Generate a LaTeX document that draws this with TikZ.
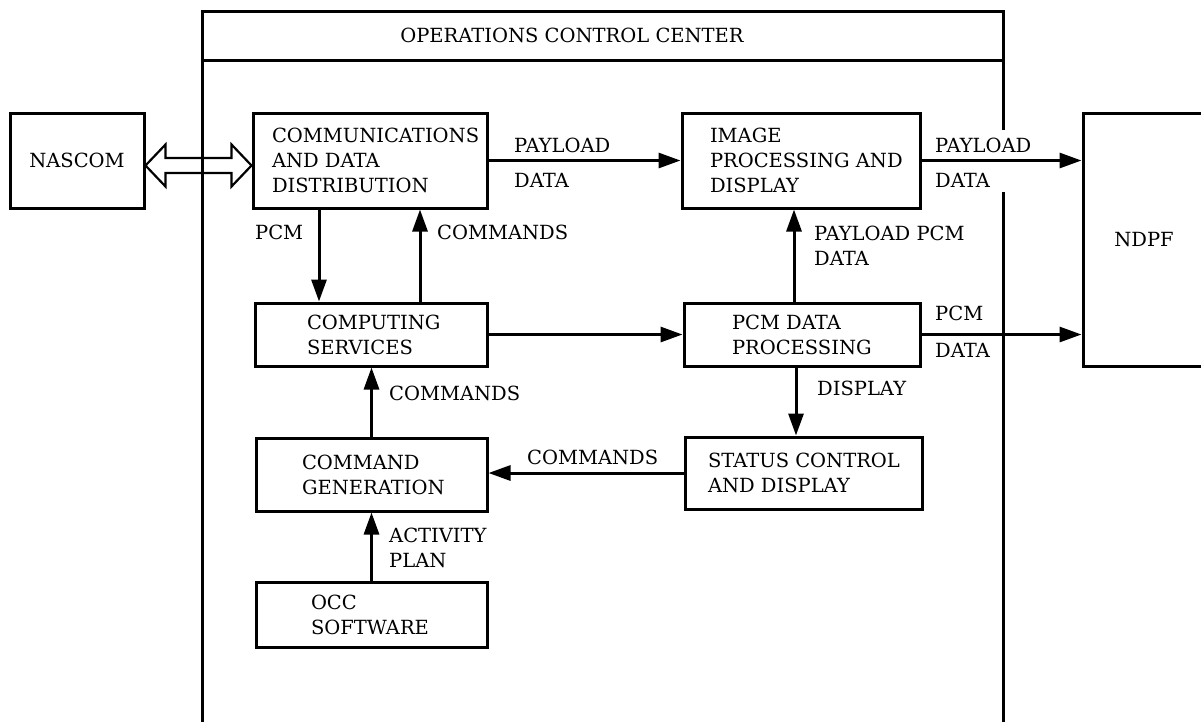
\documentclass[tikz,border=0pt]{standalone}
\usepackage{fontspec}
\setmainfont{DejaVu Serif}
\usetikzlibrary{arrows.meta,calc}
% text block set in from the left edge of its box: inset, block width, lines
\newcommand\insettext[3]{\hspace*{#1}\parbox{#2}{\raggedright #3}}
\begin{document}
\begin{tikzpicture}[x=1pt,y=-1pt,
  every node/.style={font=\fontsize{19.5}{25}\selectfont, inner sep=0pt},
  block/.style={draw, line width=3pt},
  lab/.style={anchor=west, align=left},
  flow/.style={line width=3pt, -{Triangle[length=22pt,width=15pt]}},
  frame/.style={line width=3pt}]

\useasboundingbox (0,0) rectangle (1201,721);
\clip (0,0) rectangle (1201,721);

% outside partners
\node[block, minimum width=134pt, minimum height=95pt] (nascom) at (77,160.5) {NASCOM};
\node[block, minimum width=122pt, minimum height=253pt] (ndpf) at (1144,239.5) {NDPF};

% blocks inside the operations control center
\node[block, minimum width=234pt, minimum height=95pt] (cdd) at (370,160.5)
  {\insettext{19pt}{215pt}{COMMUNICATIONS\\AND DATA\\DISTRIBUTION}};
\node[block, minimum width=238pt, minimum height=95pt] (ipd) at (801,160.5)
  {\insettext{28pt}{210pt}{IMAGE\\PROCESSING AND\\DISPLAY}};
\node[block, minimum width=232pt, minimum height=63pt] (cs) at (371,334.5)
  {\insettext{52pt}{180pt}{COMPUTING\\SERVICES}};
\node[block, minimum width=236pt, minimum height=63pt] (pdp) at (802,334.5)
  {\insettext{48pt}{188pt}{PCM DATA\\PROCESSING}};
\node[block, minimum width=237pt, minimum height=72pt] (scd) at (803.5,473)
  {\insettext{23pt}{214pt}{STATUS CONTROL\\AND DISPLAY}};
\node[block, minimum width=231pt, minimum height=73pt] (cg) at (371.5,474.5)
  {\insettext{46pt}{185pt}{COMMAND\\GENERATION}};
\node[block, minimum width=231pt, minimum height=65pt] (occ) at (371.5,614.5)
  {\insettext{55pt}{176pt}{OCC\\SOFTWARE}};

% hollow two-way link to NASCOM
\coordinate (dl) at ($(nascom.east)+(0,5)$);
\coordinate (dr) at (dl -| cdd.west);
\draw[line width=2.2pt, line join=miter] (dl) -- ++(20,-21) -- ++(0,13.5) -- ($(dr)+(-20,-7.5)$)
  -- ++(0,-13.5) -- (dr) -- ++(-20,21) -- ++(0,-13.5) -- ($(dl)+(20,7.5)$) -- ++(0,13.5) -- cycle;

% center frame with its title strip
\draw[frame] (202,730) -- (202,11) -- (1003,11) -- (1003,130);
\draw[frame] (1003,192) -- (1003,730);
\draw[frame] (202,60) -- (1003,60);
\node (title) at (572,35) {OPERATIONS CONTROL CENTER};

% data and command flows
\coordinate (xpcm) at (319,0);
\coordinate (xcmd) at (420,0);
\coordinate (xpp) at (794,0);
\coordinate (xdisp) at (796,0);
\draw[flow] (cdd.east) -- (ipd.west);
\draw[flow] (ipd.east) -- (ndpf.west |- ipd.east);
\draw[flow] (cdd.south -| xpcm) -- (cs.north -| xpcm);
\draw[flow] (cs.north -| xcmd) -- (cdd.south -| xcmd);
\draw[flow] (cs.east) -- (pdp.west);
\draw[flow] (pdp.north -| xpp) -- (ipd.south -| xpp);
\draw[flow] (pdp.east) -- (ndpf.west |- pdp.east);
\draw[flow] (pdp.south -| xdisp) -- (scd.north -| xdisp);
\draw[flow] (scd.west) -- (cg.east |- scd.west);
\draw[flow] (cg.north) -- (cs.south -| cg.north);
\draw[flow] (occ.north) -- (cg.south -| occ.north);

% flow labels
\node[lab] (lpay1) at (514,145) {PAYLOAD};
\node[lab] (ldat1) at (514,180) {DATA};
\node[lab] (lpay2) at (935,145) {PAYLOAD};
\node[lab] (ldat2) at (935,180) {DATA};
\node[lab] (lpcm1) at (255,232) {PCM};
\node[lab] (lcmd1) at (437,232) {COMMANDS};
\node[lab] (lppcm) at (814,245.5) {PAYLOAD PCM\\DATA};
\node[lab] (lpcm2) at (935,313) {PCM};
\node[lab] (ldat3) at (935,350) {DATA};
\node[lab] (ldisp) at (817,388) {DISPLAY};
\node[lab] (lcmd2) at (389,393) {COMMANDS};
\node[lab] (lcmd3) at (527,457) {COMMANDS};
\node[lab] (lact) at (389,548) {ACTIVITY\\PLAN};
\end{tikzpicture}
\end{document}
